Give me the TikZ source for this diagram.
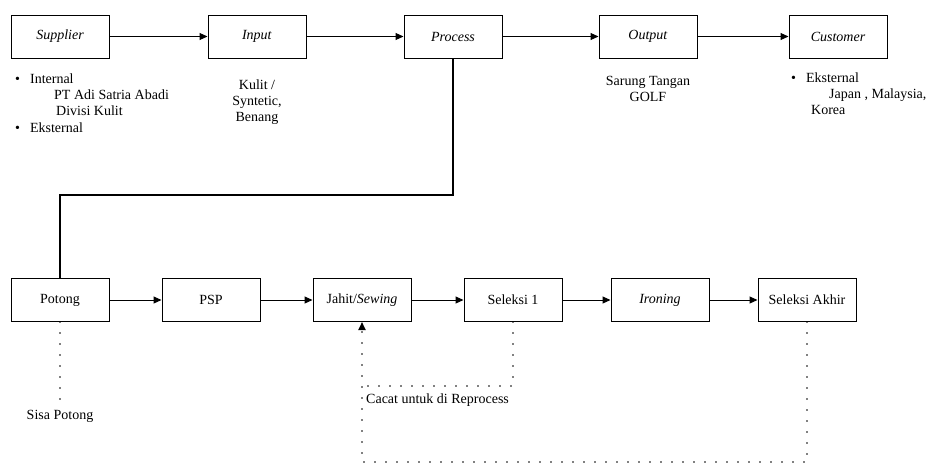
\documentclass[tikz,border=0pt]{standalone}
\usepackage{fontspec}
\setmainfont{Liberation Serif}
\usetikzlibrary{arrows.meta, positioning}

\begin{document}
\begin{tikzpicture}[
  x=1pt, y=-1pt,
  font=\fontsize{14}{16}\selectfont,
  stage/.style={rectangle, draw, line width=1pt, minimum width=98pt, minimum height=43pt, inner sep=0pt},
  flow/.style={-{Triangle[length=8pt, width=7pt]}, line width=1pt},
  feed/.style={line width=2pt},
  dotline/.style={line width=1.7pt, line cap=round, dash pattern=on 0pt off 11pt},
  note/.style={inner sep=0pt, align=left}
]
\useasboundingbox (0,0) rectangle (937,464);

% upper chain
\node[stage] (supplier) at (60,36.5) {\textit{Supplier}};
\node[stage, right=98pt of supplier] (input) {\textit{Input}};
\node[stage, right=97pt of input] (process) {\textit{Process}};
\node[stage, right=96pt of process] (output) {\textit{Output}};
\node[stage, right=91pt of output] (customer) {\textit{Customer}};

\draw[flow] (supplier) -- (input);
\draw[flow] (input) -- (process);
\draw[flow] (process) -- (output);
\draw[flow] (output) -- (customer);

% notes below the upper chain
\node[note, anchor=north west] (suppnote) at (15,74) {\textbullet\hspace{10pt}Internal\\
  \hspace{39pt}PT Adi Satria Abadi\\
  \hspace{41pt}Divisi Kulit\\[1pt]
  \textbullet\hspace{10pt}Eksternal};
\node[note, align=center, below=21pt of input] (inputnote) {Kulit /\\ Syntetic,\\ Benang};
\node[note, align=center, below=18pt of output] (outputnote) {Sarung Tangan\\ GOLF};
\node[note, anchor=north west] (custnote) at (791,73) {\textbullet\hspace{10pt}Eksternal\\
  \hspace{38pt}Japan , Malaysia,\\
  \hspace{20pt}Korea};

% lower chain
\node[stage] (potong) at (60,300) {Potong};
\node[stage, right=52pt of potong] (psp) {PSP};
\node[stage, right=52pt of psp] (jahit) {Jahit/\textit{Sewing}};
\node[stage, right=52pt of jahit] (seleksi) {Seleksi 1};
\node[stage, right=48pt of seleksi] (ironing) {\textit{Ironing}};
\node[stage, right=48pt of ironing] (akhir) {Seleksi Akhir};

\draw[flow] (potong) -- (psp);
\draw[flow] (psp) -- (jahit);
\draw[flow] (jahit) -- (seleksi);
\draw[flow] (seleksi) -- (ironing);
\draw[flow] (ironing) -- (akhir);

% process down to potong
\coordinate (turn) at (potong.north |- 0,195);
\draw[feed] (process.south) |- (turn) -- (potong.north);

% waste and rework
\node[note, below=88pt of potong] (sisa) {Sisa Potong};
\draw[dotline] (potong.south) -- (sisa.north);

\coordinate (rework) at (jahit.south |- 0,386);
\draw[dotline] (seleksi.south) |- (rework);
\node[note, anchor=north west] (cacat) at (366,394) {Cacat untuk di Reprocess};

\coordinate (back) at (akhir.south |- 0,462);
\draw[dotline, -{Triangle[length=8pt, width=7pt]}] (akhir.south) -- (back) -| (jahit.south);
\end{tikzpicture}
\end{document}
